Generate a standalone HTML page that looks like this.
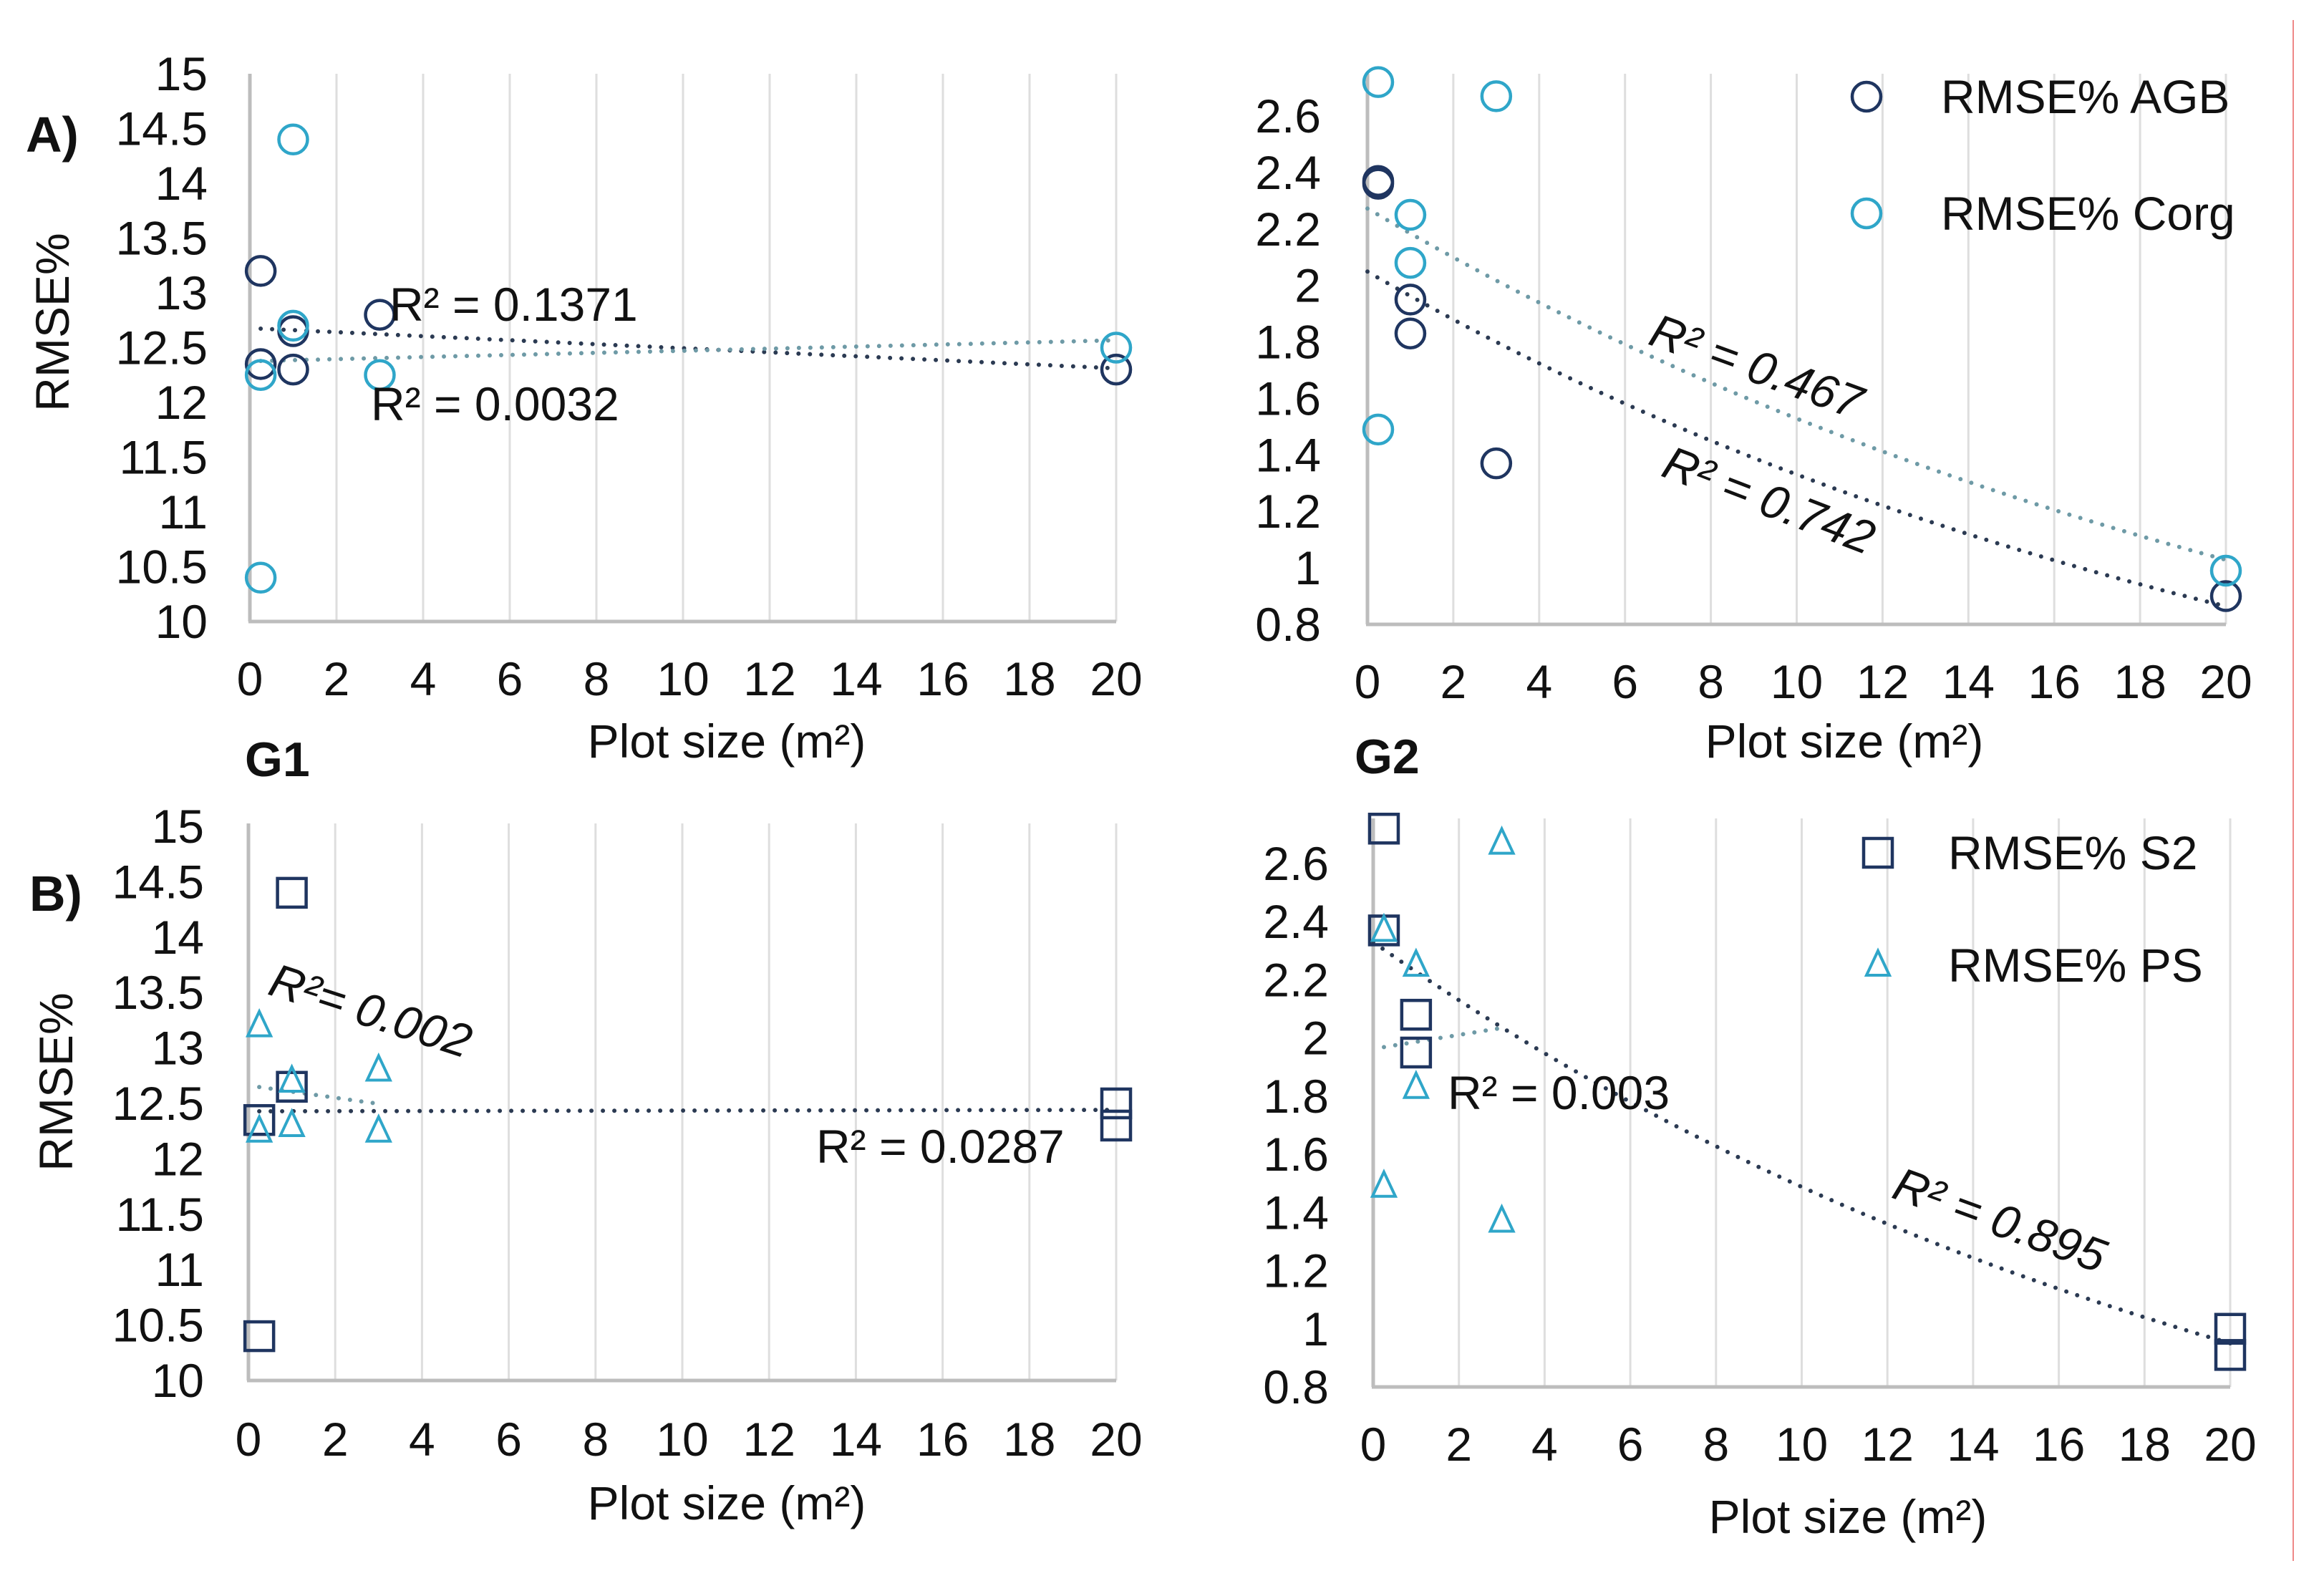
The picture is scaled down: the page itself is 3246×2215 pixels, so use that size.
<!DOCTYPE html>
<html><head><meta charset="utf-8"><style>
html,body{margin:0;padding:0;background:#fff}
svg{display:block}
text{font-family:"Liberation Sans",Arial,sans-serif;fill:#111}
</style></head><body>
<svg id="chart" xmlns="http://www.w3.org/2000/svg" width="3246" height="2215" viewBox="0 0 3246 2215">
<rect width="3246" height="2215" fill="#fff"/>
<line x1="3203" y1="28" x2="3203" y2="2180" stroke="#e88" stroke-width="2"/>
</svg>
<script>
// ---- data ----
const plotSizes = [0.25, 0.25, 1, 1, 3, 20];
const g1AgbValues = [13.2, 12.35, 12.65, 12.3, 12.8, 12.3];
const g1CorgValues = [10.4, 12.25, 14.4, 12.7, 12.25, 12.5];
const g2AgbValues = [2.37, 2.36, 1.95, 1.83, 1.37, 0.9];
const g2CorgValues = [2.72, 1.49, 2.25, 2.08, 2.67, 0.99];
const s2Sizes = [0.25, 0.25, 1, 1, 20, 20];
const psSizes = [0.25, 0.25, 1, 1, 3, 3];
const g1S2Values = [10.4, 12.35, 14.4, 12.65, 12.5, 12.3];
const g1PsValues = [13.2, 12.25, 12.7, 12.3, 12.8, 12.25];
const g2S2Values = [2.72, 2.37, 2.08, 1.95, 1.0, 0.91];
const g2PsValues = [2.37, 1.49, 2.25, 1.83, 2.67, 1.37];
const xTicks = [0, 2, 4, 6, 8, 10, 12, 14, 16, 18, 20];
const g1YTicks = [10, 10.5, 11, 11.5, 12, 12.5, 13, 13.5, 14, 14.5, 15];
const g2YTicks = [0.8, 1, 1.2, 1.4, 1.6, 1.8, 2, 2.2, 2.4, 2.6];

const NS = "http://www.w3.org/2000/svg";
const svg = document.getElementById('chart');
const DARK = "#1f3560", LIGHT = "#2fa6c9", TDARK = "#2b3a52", TLIGHT = "#6e9aa6";

function el(tag, attrs, parent) {
  const e = document.createElementNS(NS, tag);
  for (const k in attrs) e.setAttribute(k, attrs[k]);
  (parent || svg).appendChild(e);
  return e;
}
function txt(s, attrs, parent) { const t = el('text', attrs, parent); t.textContent = s; return t; }

function makePanel(cfg) {
  const g = el('g', {});
  
  
  const sx = v => cfg.x0 + (v - 0) / 20 * (cfg.x1 - cfg.x0);
  const sy = v => cfg.yb + (v - cfg.vmin) / (cfg.vmax - cfg.vmin) * (cfg.yt - cfg.yb);
  // grid
  xTicks.forEach(t => {
    if (t === 0) return;
    const l = el('line', {x1: sx(t), x2: sx(t), y1: cfg.gridTop, y2: cfg.yb, stroke: '#dedede', 'stroke-width': 3}, g);
    
    
  });
  const ya = el('line', {x1: cfg.x0, x2: cfg.x0, y1: cfg.gridTop, y2: cfg.yb, stroke: '#bdbdbd', 'stroke-width': 5}, g);
  
  
  const xa = el('line', {x1: cfg.x0 - 2, x2: cfg.x1, y1: cfg.yb, y2: cfg.yb, stroke: '#bdbdbd', 'stroke-width': 5}, g);
  
  
  xTicks.forEach(t => {
    const tl = txt(String(t), {x: sx(t), y: cfg.xLabY + 23, 'text-anchor': 'middle', 'font-size': 66}, g);
    
    
  });
  cfg.yTicks.forEach(t => {
    const tl = txt(String(t), {x: cfg.yLabR, y: sy(t) + 23, 'text-anchor': 'end', 'font-size': 66}, g);
    
    
  });
  const xt = txt('Plot size (m²)', {x: cfg.xTitle[0], y: cfg.xTitle[1] + 23, 'text-anchor': 'middle', 'font-size': 66}, g);
  
  
  return {g, sx, sy};
}

function fitLinear(xs, ys) {
  const n = xs.length, mx = xs.reduce((a, b) => a + b) / n, my = ys.reduce((a, b) => a + b) / n;
  let sxy = 0, sxx = 0;
  for (let i = 0; i < n; i++) { sxy += (xs[i] - mx) * (ys[i] - my); sxx += (xs[i] - mx) ** 2; }
  const b = sxy / sxx; return x => my + b * (x - mx);
}
function fitExp(xs, ys) {
  const f = fitLinear(xs, ys.map(Math.log)); return x => Math.exp(f(x));
}
function trend(p, fn, xa, xb, color, name) {
  let d = '';
  for (let i = 0; i <= 60; i++) {
    const x = xa + (xb - xa) * i / 60;
    d += (i ? 'L' : 'M') + p.sx(x).toFixed(1) + ' ' + p.sy(fn(x)).toFixed(1);
  }
  const path = el('path', {d, fill: 'none', stroke: color, 'stroke-width': 6, 'stroke-linecap': 'round', 'stroke-dasharray': '0 16'}, p.g);
  
  
}
function circles(p, xs, ys, color, name) {
  xs.forEach((x, i) => {
    const c = el('circle', {cx: p.sx(x), cy: p.sy(ys[i]), r: 20, fill: 'none', stroke: color, 'stroke-width': 4.5}, p.g);
    
    
  });
}
function squares(p, xs, ys, color, name) {
  xs.forEach((x, i) => {
    const r = el('rect', {x: p.sx(x) - 20, y: p.sy(ys[i]) - 20, width: 40, height: 40, fill: 'none', stroke: color, 'stroke-width': 4.5}, p.g);
    
    
  });
}
function triangles(p, xs, ys, color, name) {
  xs.forEach((x, i) => {
    const cx = p.sx(x), cy = p.sy(ys[i]);
    const t = el('polygon', {points: `${cx},${cy - 20} ${cx - 16},${cy + 14} ${cx + 16},${cy + 14}`, fill: 'none', stroke: color, 'stroke-width': 4}, p.g);
    
    
  });
}
function label(p, s, x, y, rot, name, extra) {
  const attrs = Object.assign({x, y, 'font-size': 66}, extra || {});
  if (rot) attrs.transform = `rotate(${rot} ${x} ${y})`;
  const t = txt(s, attrs, p ? p.g : svg);
  
  
  return t;
}
const mn = a => Math.min(...a), mx = a => Math.max(...a);

// ---- Panel A / G1 ----
const pA = makePanel({name: 'panel-a-g1', x0: 349, x1: 1559, vmin: 10, vmax: 15, yb: 868, yt: 103, gridTop: 103,
  yTicks: g1YTicks, yLabR: 290, xLabY: 948, xTitle: [1015, 1035]});
trend(pA, fitLinear(plotSizes, g1AgbValues), mn(plotSizes), mx(plotSizes), TDARK, 'trendline-agb');
trend(pA, fitLinear(plotSizes, g1CorgValues), mn(plotSizes), mx(plotSizes), TLIGHT, 'trendline-corg');
circles(pA, plotSizes, g1AgbValues, DARK, 'point-agb');
circles(pA, plotSizes, g1CorgValues, LIGHT, 'point-corg');
label(pA, 'R² = 0.1371', 544, 448, 0, 'r2-label-agb');
label(pA, 'R² = 0.0032', 518, 587, 0, 'r2-label-corg');

// ---- Panel G2 top ----
const pB = makePanel({name: 'panel-a-g2', x0: 1910, x1: 3109, vmin: 0.8, vmax: 2.6, yb: 872, yt: 162, gridTop: 103,
  yTicks: g2YTicks, yLabR: 1845, xLabY: 952, xTitle: [2576, 1035]});
trend(pB, fitExp(plotSizes, g2CorgValues), 0, mx(plotSizes), TLIGHT, 'trendline-corg');
trend(pB, fitExp(plotSizes, g2AgbValues), 0, mx(plotSizes), TDARK, 'trendline-agb');
circles(pB, plotSizes, g2AgbValues, DARK, 'point-agb');
circles(pB, plotSizes, g2CorgValues, LIGHT, 'point-corg');
label(pB, 'R² = 0.467', 2300, 480, 20, 'r2-label-corg', {'font-style': 'italic'});
label(pB, 'R² = 0.742', 2318, 664, 21, 'r2-label-agb', {'font-style': 'italic'});
// legend
(function () {
  const lg = el('g', {}, svg);
  
  
  const c1 = el('circle', {cx: 2607, cy: 135, r: 20, fill: 'none', stroke: DARK, 'stroke-width': 4.5}, lg);
  
  
  const c2 = el('circle', {cx: 2607, cy: 298, r: 20, fill: 'none', stroke: LIGHT, 'stroke-width': 4.5}, lg);
  
  
  const t1 = txt('RMSE% AGB', {x: 2711, y: 158, 'font-size': 66}, lg);
  
  
  const t2 = txt('RMSE% Corg', {x: 2711, y: 321, 'font-size': 66}, lg);
  
  
})();

// ---- Panel B / G1 ----
const pC = makePanel({name: 'panel-b-g1', x0: 347, x1: 1559, vmin: 10, vmax: 15, yb: 1928, yt: 1154, gridTop: 1150,
  yTicks: g1YTicks, yLabR: 285, xLabY: 2010, xTitle: [1015, 2099]});
trend(pC, fitLinear(psSizes, g1PsValues), mn(psSizes), mx(psSizes), TLIGHT, 'trendline-ps');
trend(pC, fitLinear(s2Sizes, g1S2Values), mn(s2Sizes), mx(s2Sizes), TDARK, 'trendline-s2');
squares(pC, s2Sizes, g1S2Values, DARK, 'point-s2');
triangles(pC, psSizes, g1PsValues, LIGHT, 'point-ps');
label(pC, 'R²= 0.002', 372, 1388, 18, 'r2-label-ps', {'font-style': 'italic'});
label(pC, 'R² = 0.0287', 1140, 1624, 0, 'r2-label-s2');

// ---- Panel G2 bottom ----
const pD = makePanel({name: 'panel-b-g2', x0: 1918, x1: 3115, vmin: 0.8, vmax: 2.6, yb: 1937, yt: 1206, gridTop: 1143,
  yTicks: g2YTicks, yLabR: 1856, xLabY: 2017, xTitle: [2581, 2118]});
trend(pD, fitLinear(psSizes, g2PsValues), mn(psSizes), mx(psSizes), TLIGHT, 'trendline-ps');
trend(pD, fitExp(s2Sizes, g2S2Values), 0, mx(s2Sizes), TDARK, 'trendline-s2');
squares(pD, s2Sizes, g2S2Values, DARK, 'point-s2');
triangles(pD, psSizes, g2PsValues, LIGHT, 'point-ps');
label(pD, 'R² = 0.003', 2022, 1549, 0, 'r2-label-ps');
label(pD, 'R² = 0.895', 2640, 1672, 20, 'r2-label-s2', {'font-style': 'italic'});
(function () {
  const lg = el('g', {}, svg);
  
  
  const s = el('rect', {x: 2603, y: 1171, width: 40, height: 40, fill: 'none', stroke: DARK, 'stroke-width': 4.5}, lg);
  
  
  const t = el('polygon', {points: '2623,1328 2607,1362 2639,1362', fill: 'none', stroke: LIGHT, 'stroke-width': 4}, lg);
  
  
  const t1 = txt('RMSE% S2', {x: 2721, y: 1214, 'font-size': 66}, lg);
  
  
  const t2 = txt('RMSE% PS', {x: 2721, y: 1371, 'font-size': 66}, lg);
  
  
})();

// ---- figure labels ----
label(null, 'A)', 36, 212, 0, 'panel-label-a', {'font-weight': 'bold', 'font-size': 70});
label(null, 'B)', 41, 1272, 0, 'panel-label-b', {'font-weight': 'bold', 'font-size': 70});
label(null, 'G1', 342, 1084, 0, 'group-label-g1', {'font-weight': 'bold', 'font-size': 68});
label(null, 'G2', 1892, 1080, 0, 'group-label-g2', {'font-weight': 'bold', 'font-size': 68});
label(null, 'RMSE%', 96, 450, -90, 'y-axis-title-a', {'text-anchor': 'middle'});
label(null, 'RMSE%', 101, 1511, -90, 'y-axis-title-b', {'text-anchor': 'middle'});
</script>
</body></html>
